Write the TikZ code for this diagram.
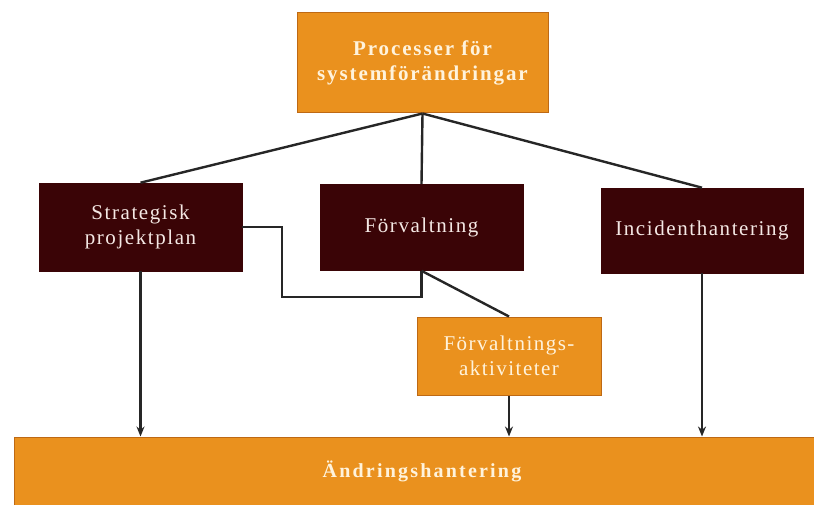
\documentclass[tikz,border=0pt]{standalone}
\usepackage{fontspec}
\setmainfont{Liberation Serif}
\usetikzlibrary{arrows.meta}
\definecolor{orangebox}{RGB}{234,145,30}
\definecolor{orangeedge}{RGB}{190,105,20}
\definecolor{darkbox}{RGB}{58,4,6}
\definecolor{lighttext}{RGB}{244,232,228}
\definecolor{creamtext}{RGB}{255,243,220}
\tikzset{
  orangenode/.style={draw=orangeedge, line width=1pt, fill=orangebox, text=creamtext,
    align=center, inner sep=0pt,
    font=\fontsize{21}{25}\selectfont\bfseries\addfontfeature{LetterSpace=9}},
  darknode/.style={draw=darkbox, line width=0.6pt, fill=darkbox, text=lighttext,
    align=center, inner sep=0pt,
    font=\fontsize{21}{25}\selectfont\addfontfeature{LetterSpace=7.5}},
  actnode/.style={orangenode, font=\fontsize{21}{25}\selectfont\addfontfeature{LetterSpace=7}},
  conn/.style={draw=black!85, line width=2.4pt},
  arr/.style={draw=black!85, line width=2.4pt, -{Stealth[length=10pt,width=8pt]}}
}
\begin{document}
\begin{tikzpicture}[x=1pt,y=-1pt]
\useasboundingbox (0,0) rectangle (814,505);
\fill[white] (0,0) rectangle (814,505);

\node[orangenode, minimum width=251, minimum height=100] (top) at (422.5,63) {Processer för\\systemförändringar};
\node[darknode, minimum width=203, minimum height=88] (strat) at (140.5,227) {Strategisk\\projektplan};
\node[darknode, minimum width=203, minimum height=86] (forv) at (421.5,227.5) {Förvaltning};
\node[darknode, minimum width=202, minimum height=85] (inc) at (702,230.5) {Incidenthantering};
\node[actnode, minimum width=184, minimum height=78] (akt) at (509,356) {Förvaltnings-\\aktiviteter};
\node[orangenode, minimum width=816, minimum height=68, font=\fontsize{20}{24}\selectfont\bfseries\addfontfeature{LetterSpace=11}] (bot) at (422,471) {Ändringshantering};

\coordinate (j1) at (282,297);

\draw[conn] (top.south) -- (strat.north);
\draw[conn] (top.south) -- (forv.north);
\draw[conn] (top.south) -- (inc.north);
\draw[conn] (strat.east) -| (j1) -| (forv.south);
\draw[conn] (forv.south) -- (akt.north);
\draw[arr] (strat.south) -- (strat.south |- bot.north);
\draw[arr] (akt.south) -- (akt.south |- bot.north);
\draw[arr] (inc.south) -- (inc.south |- bot.north);
\end{tikzpicture}
\end{document}
